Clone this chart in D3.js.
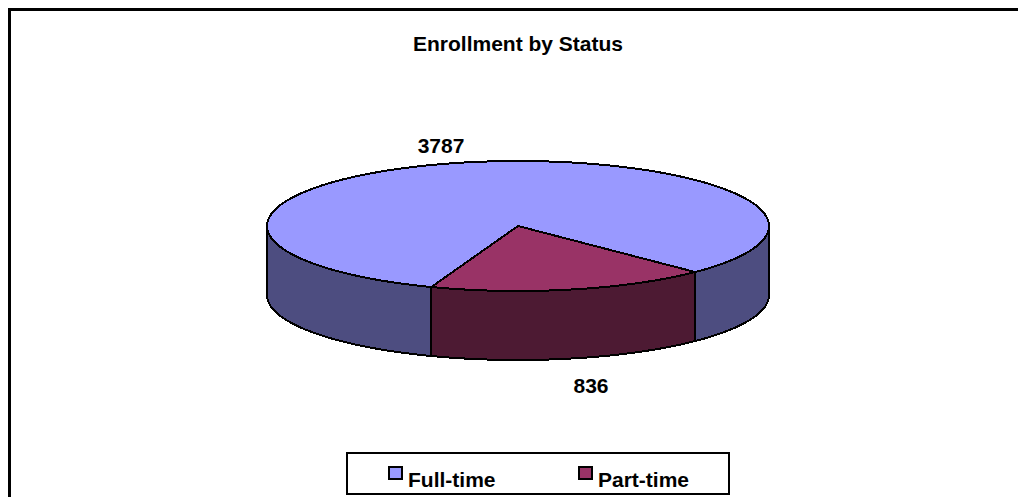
<!DOCTYPE html>
<html><head><meta charset="utf-8">
<script src="https://cdn.jsdelivr.net/npm/d3@7/dist/d3.min.js"></script>
<style>html,body{margin:0;padding:0;background:#fff}svg{display:block}
text{font-family:"Liberation Sans",Arial,sans-serif;font-weight:bold;fill:#000}</style>
</head><body><svg id="c" width="1018" height="497"></svg>
<script>
const categories = ["Full-time", "Part-time"];
const values = [3787, 836];
const topColors = ["#9999FF", "#993366"];
const sideColors = ["#4D4D80", "#4D1A33"];
const chartTitle = "Enrollment by Status";

const W = 1018, H = 497;
const svg = d3.select("#c");
svg.append("rect").attr("width", W).attr("height", H).attr("fill", "#fff");

// chart frame: only top and left are visible in the crop
svg.append("path").attr("d", `M9.5,${H}V9H${W}`).attr("fill", "none").attr("stroke", "#000").attr("stroke-width", 3).attr("shape-rendering", "crispEdges");

svg.append("text").attr("x", 518).attr("y", 51).attr("text-anchor", "middle").attr("font-size", 21).text(chartTitle);

// pie projected onto an ellipse
const sx = d3.scaleLinear().domain([-1, 1]).range([267, 769]);
const sy = d3.scaleLinear().domain([-1, 1]).range([161, 291]);
const depth = 69;
const rad = d => d * Math.PI / 180;
const startDeg = 200.2;
const pie = d3.pie().sort(null).startAngle(rad(startDeg)).endAngle(rad(startDeg + 360));
const arcs = pie(values);

const px = a => sx(Math.sin(a));
const py = a => sy(-Math.cos(a));
const samples = (a0, a1) => d3.range(0, 121).map(i => a0 + (a1 - a0) * i / 120);
const line = d3.line().curve(d3.curveLinear);
const edge = {stroke: "#000", "stroke-width": 2, "stroke-linejoin": "round", "shape-rendering": "crispEdges"};
const applyEdge = s => { for (const k in edge) s.attr(k, edge[k]); return s; };

// visible (front) walls: angle range clipped to the lower half of the ellipse
const frontRanges = [];
arcs.forEach((d, i) => {
  for (const k of [0, 1]) {
    const lo = Math.max(d.startAngle, rad(90) + k * 2 * Math.PI);
    const hi = Math.min(d.endAngle, rad(270) + k * 2 * Math.PI);
    if (hi > lo) frontRanges.push({i, lo, hi});
  }
});
frontRanges.forEach(r => {
  const pts = samples(r.lo, r.hi);
  const top = pts.map(a => [px(a), py(a)]);
  const bot = pts.map(a => [px(a), py(a) + depth]).reverse();
  applyEdge(svg.append("path").attr("d", line(top.concat(bot)) + "Z").attr("fill", sideColors[r.i]));
});

// top faces
arcs.forEach((d, i) => {
  const pts = samples(d.startAngle, d.endAngle).map(a => [px(a), py(a)]);
  applyEdge(svg.append("path").attr("d", line([[sx(0), sy(0)], ...pts]) + "Z").attr("fill", topColors[i]));
});

// data labels
svg.append("text").attr("x", 441).attr("y", 153).attr("text-anchor", "middle").attr("font-size", 21).text(values[0]);
svg.append("text").attr("x", 591).attr("y", 393).attr("text-anchor", "middle").attr("font-size", 21).text(values[1]);

// legend
svg.append("rect").attr("x", 347).attr("y", 453).attr("width", 382).attr("height", 41).attr("fill", "#fff").attr("stroke", "#000").attr("stroke-width", 2);
const legendX = d3.scaleOrdinal().domain(categories).range([389, 579]);
categories.forEach((c, i) => {
  svg.append("rect").attr("x", legendX(c)).attr("y", 467).attr("width", 13).attr("height", 12).attr("fill", topColors[i]).attr("stroke", "#000").attr("stroke-width", 2);
  svg.append("text").attr("x", legendX(c) + 19).attr("y", 487).attr("font-size", 21).text(c);
});
</script></body></html>
